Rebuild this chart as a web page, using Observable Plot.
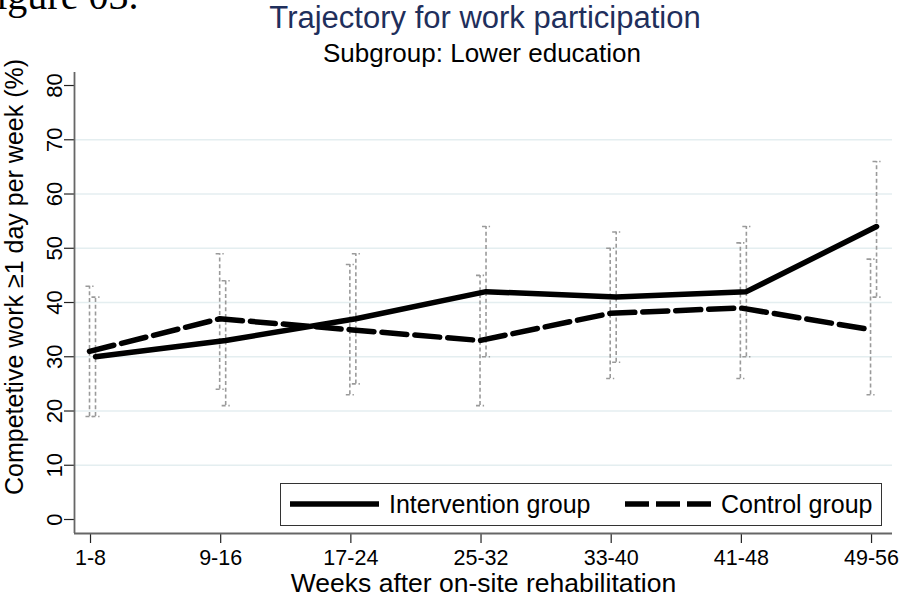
<!DOCTYPE html>
<html><head><meta charset="utf-8">
<script src="https://cdn.jsdelivr.net/npm/d3@7"></script>
<script src="https://cdn.jsdelivr.net/npm/@observablehq/plot@0.6"></script>
<style>
body{margin:0;background:#fff;}
#wrap{position:relative;width:910px;height:596px;overflow:hidden;background:#fff;font-family:"Liberation Sans",Arial,sans-serif;}
#wrap svg{position:absolute;left:0;top:0;}
</style></head><body><div id="wrap"></div>
<script>
// ---- data ----
const weeks = ["1-8", "9-16", "17-24", "25-32", "33-40", "41-48", "49-56"];
const intervention   = [30, 33, 37, 42, 41, 42, 54];
const interventionLo = [19, 21, 25, 30, 29, 30, 41];
const interventionHi = [41, 44, 49, 54, 53, 54, 66];
const control   = [31, 37, 35, 33, 38, 39, 35];
const controlLo = [19, 24, 23, 21, 26, 26, 23];
const controlHi = [43, 49, 47, 45, 50, 51, 48];
const yTicks = [0, 10, 20, 30, 40, 50, 60, 70, 80];
const gridTicks = [10, 20, 30, 40, 50, 60, 70];
const groups = ["Intervention group", "Control group"];

const capW = 0.031;
const mk = (vals, lo, hi, g) => weeks.map((w, i) => ({i, week: w, group: g, value: vals[i], lo: lo[i], hi: hi[i]}));
const intRows = mk(intervention, interventionLo, interventionHi, groups[0]);
const ctlRows = mk(control, controlLo, controlHi, groups[1]);

const ciColor = "#9a9a9a", ciDash = "4,2.7";
function ciMarks(rows, dx) {
  return [
    Plot.ruleX(rows, {x: "i", y1: "lo", y2: "hi", stroke: ciColor, strokeWidth: 1.6, strokeDasharray: ciDash, dx}),
    Plot.link(rows, {x1: d => d.i - capW, x2: d => d.i + capW, y1: "hi", y2: "hi", stroke: ciColor, strokeWidth: 1.6, strokeDasharray: ciDash, dx}),
    Plot.link(rows, {x1: d => d.i - capW, x2: d => d.i + capW, y1: "lo", y2: "lo", stroke: ciColor, strokeWidth: 1.6, strokeDasharray: ciDash, dx})
  ];
}

const W = 910, H = 596;
const chart = Plot.plot({
  width: W, height: H,
  marginLeft: 74, marginRight: 18, marginTop: 72, marginBottom: 63,
  style: {fontFamily: "Liberation Sans, Arial, sans-serif", background: "transparent", overflow: "visible"},
  x: {domain: [-0.123, 6.161], axis: null},
  y: {domain: [-2.58, 82.4], axis: null},
  marks: [
    Plot.ruleY(gridTicks, {stroke: "#e4eef0", strokeWidth: 1.6}),
    ...ciMarks(ctlRows, -1),
    ...ciMarks(intRows, 5),
    Plot.line(intRows, {x: "i", y: "value", stroke: "#000", strokeWidth: 5.5, dx: 5}),
    Plot.line(ctlRows, {x: "i", y: "value", stroke: "#000", strokeWidth: 5.5, strokeDasharray: "25,8", dx: -1}),
    Plot.axisX(d3.range(weeks.length), {tickFormat: i => weeks[i], tickSize: 10, tickPadding: 6, fontSize: 21.5, stroke: "#222", strokeWidth: 1.2, color: "#000", label: null}),
    Plot.axisY(yTicks, {tickRotate: -90, tickSize: 10, tickPadding: 3, fontSize: 22, stroke: "#222", strokeWidth: 1.2, label: null}),
    Plot.ruleX([-0.123], {stroke: "#666", strokeWidth: 1.8}),
    Plot.ruleY([-2.58], {stroke: "#666", strokeWidth: 1.8}),
    Plot.text(["Weeks after on-site rehabilitation"], {frameAnchor: "bottom", dy: 58, fontSize: 26.5, fill: "#000"}),
    Plot.text(["Competetive work \u22651 day per week (%)"], {frameAnchor: "left", textAnchor: "middle", rotate: -90, dx: -60, dy: -26, fontSize: 25, fill: "#000"})
  ]
});
document.getElementById("wrap").appendChild(chart);

// overlay: titles and legend
const ov = d3.select("#wrap").append("svg").attr("width", W).attr("height", H)
  .style("font-family", "Liberation Sans, Arial, sans-serif");
ov.append("text").attr("x", -26).attr("y", 9).attr("font-family", "Liberation Serif, serif").attr("font-size", 40).text("Figure 03.");
ov.append("text").attr("x", 485).attr("y", 28).attr("text-anchor", "middle").attr("font-size", 31).attr("fill", "#1f2f5c").text("Trajectory for work participation");
ov.append("text").attr("x", 482).attr("y", 62).attr("text-anchor", "middle").attr("font-size", 26).attr("fill", "#000").text("Subgroup: Lower education");
const lg = ov.append("g");
lg.append("rect").attr("x", 280.5).attr("y", 483.5).attr("width", 601).attr("height", 42).attr("fill", "#fff").attr("stroke", "#333").attr("stroke-width", 1);
lg.append("line").attr("x1", 290).attr("x2", 379).attr("y1", 504).attr("y2", 504).attr("stroke", "#000").attr("stroke-width", 5.5);
lg.append("text").attr("x", 389).attr("y", 513).attr("font-size", 25).text(groups[0]);
lg.append("line").attr("x1", 625).attr("x2", 711).attr("y1", 504).attr("y2", 504).attr("stroke", "#000").attr("stroke-width", 5.5).attr("stroke-dasharray", "24,7");
lg.append("text").attr("x", 721).attr("y", 513).attr("font-size", 25).text(groups[1]);
</script>
</body></html>
